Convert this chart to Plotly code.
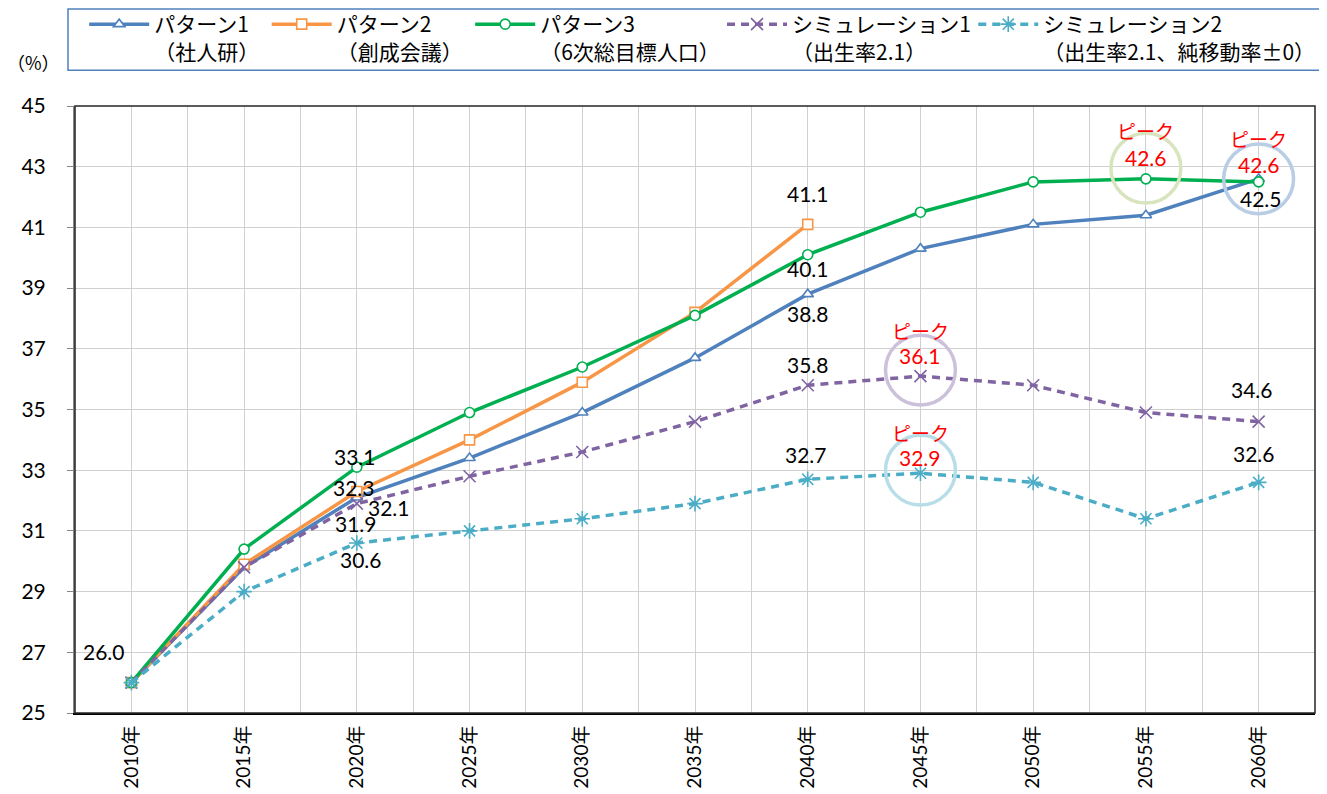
import plotly.graph_objects as go

years = ["2010年", "2015年", "2020年", "2025年", "2030年", "2035年",
         "2040年", "2045年", "2050年", "2055年", "2060年"]

pattern1 = [26.0, 29.8, 32.1, 33.4, 34.9, 36.7, 38.8, 40.3, 41.1, 41.4, 42.6]
pattern2 = [26.0, 29.9, 32.3, 34.0, 35.9, 38.2, 41.1]
pattern3 = [26.0, 30.4, 33.1, 34.9, 36.4, 38.1, 40.1, 41.5, 42.5, 42.6, 42.5]
sim1 = [26.0, 29.8, 31.9, 32.8, 33.6, 34.6, 35.8, 36.1, 35.8, 34.9, 34.6]
sim2 = [26.0, 29.0, 30.6, 31.0, 31.4, 31.9, 32.7, 32.9, 32.6, 31.4, 32.6]

names = ["パターン1<br>（社人研）", "パターン2<br>（創成会議）", "パターン3<br>（6次総目標人口）",
         "シミュレーション1<br>（出生率2.1）", "シミュレーション2<br>（出生率2.1、純移動率±0）"]

FONT = "Lato, 'Noto Sans CJK JP', sans-serif"
JPFONT = "'Noto Sans CJK JP', sans-serif"

fig = go.Figure()
series = [
    (pattern1, "#4f81bd", "solid", "triangle-up", 10, "white"),
    (pattern2, "#f79646", "solid", "square", 10, "white"),
    (pattern3, "#00b050", "solid", "circle", 10, "white"),
    (sim1, "#8064a2", "8px,6px", "x-thin", 12, "#8064a2"),
    (sim2, "#4bacc6", "8px,6px", "asterisk", 13, "#4bacc6"),
]
legend_ids = ["legend", "legend2", "legend3", "legend4", "legend5"]
legend_x = [0.0074, 0.1546, 0.3187, 0.5218, 0.7244]
for (vals, col, dash, sym, sz, fill), nm, lid in zip(series, names, legend_ids):
    fig.add_trace(go.Scatter(
        x=list(range(len(vals))), y=vals, name=nm, mode="lines+markers",
        line=dict(color=col, width=3.5, dash=dash), legend=lid,
        marker=dict(symbol=sym, size=sz, color=fill, line=dict(color=col, width=1.6)),
    ))

# data labels: (series values, index, dx, dy)
labels = [
    (pattern1, 0, -27, 31), (pattern3, 2, -2, 11), (pattern2, 2, -3, 4),
    (pattern1, 2, 32, -10), (sim1, 2, -1, -20), (sim2, 2, 4, -16),
    (pattern2, 6, 0, 31), (pattern3, 6, 0, -14), (pattern1, 6, 0, -19),
    (sim1, 6, 0, 21), (sim2, 6, -2, 25), (sim1, 10, -7, 32),
    (sim2, 10, -5, 29), (pattern3, 10, 2, -17),
]
for vals, i, dx, dy in labels:
    fig.add_annotation(x=i, y=vals[i], text=f"{vals[i]:.1f}", showarrow=False,
                       xshift=dx, yshift=dy, font=dict(family=FONT, size=21, color="black"))

# peaks: (series values, index, circle colour, value dy, label dy, circle centre dy units)
peaks = [
    (pattern3, 9, "#d7e4bd", 21, 48, 0.35),
    (pattern1, 10, "#b9cde5", 14, 40, 0.0),
    (sim1, 7, "#ccc1da", 21, 46, 0.2),
    (sim2, 7, "#b7dee8", 16, 41, 0.1),
]
for vals, i, ccol, vdy, ldy, cdy in peaks:
    v = vals[i]
    fig.add_shape(type="circle", xref="x", yref="y",
                  x0=i - 0.31, x1=i + 0.31, y0=v + cdy - 1.15, y1=v + cdy + 1.15,
                  line=dict(color=ccol, width=3.5), layer="above")
    fig.add_annotation(x=i, y=v, text=f"{v:.1f}", showarrow=False, yshift=vdy,
                       font=dict(family=FONT, size=21, color="red"))
    fig.add_annotation(x=i, y=v, text="ピーク", showarrow=False, yshift=ldy,
                       font=dict(family=JPFONT, size=19, color="red"))

# legend frame and plot border
fig.add_shape(type="rect", xref="paper", yref="paper", x0=-0.00565, x1=1.004,
              y0=1.059, y1=1.160, line=dict(color="#4f81bd", width=1.5))
fig.add_shape(type="rect", xref="paper", yref="paper", x0=0, x1=1, y0=0, y1=1,
              line=dict(color="#262626", width=1.5))

fig.add_annotation(xref="paper", yref="paper", x=-0.0105, y=1.0725, xanchor="right",
                   yanchor="middle", text="（%）", showarrow=False,
                   font=dict(family=JPFONT, size=18, color="black"))

leg_common = dict(orientation="h", y=1.168, xanchor="left", yanchor="top",
                  valign="top", itemwidth=60, font=dict(family=JPFONT, size=21),
                  bgcolor="rgba(0,0,0,0)", borderwidth=0)
layout_legends = {lid: dict(x=lx, **leg_common) for lid, lx in zip(legend_ids, legend_x)}

# page body has an 8px default margin, so the figure is sized/margined to compensate
fig.update_layout(
    width=1319, height=786,
    margin=dict(l=67, r=12, t=98, b=81, autoexpand=False),
    paper_bgcolor="white", plot_bgcolor="white",
    font=dict(family=FONT, size=16, color="black"),
    showlegend=True,
    **layout_legends,
)
fig.update_xaxes(
    range=[-0.5, 10.5], tickmode="array", tickvals=list(range(len(years))), ticktext=years,
    tickangle=-90, showgrid=True, gridcolor="#d0d0d0", gridwidth=1,
    minor=dict(tickmode="array", tickvals=[i + 0.5 for i in range(-1, len(years))],
               showgrid=True, gridcolor="#d0d0d0", gridwidth=1),
    showline=True, linecolor="black", linewidth=2, ticks="", zeroline=False,
    tickfont=dict(family=FONT, size=19), ticklabelstandoff=3, automargin=False,
)
fig.update_yaxes(
    range=[25, 45], dtick=2, tick0=25, showgrid=True, gridcolor="#d0d0d0", gridwidth=1,
    showline=True, linecolor="#868686", linewidth=2, ticks="outside", ticklen=6,
    tickcolor="#868686", zeroline=False, tickfont=dict(family=FONT, size=21),
    ticklabelstandoff=17, automargin=False,
)

fig.write_html("out.html")
